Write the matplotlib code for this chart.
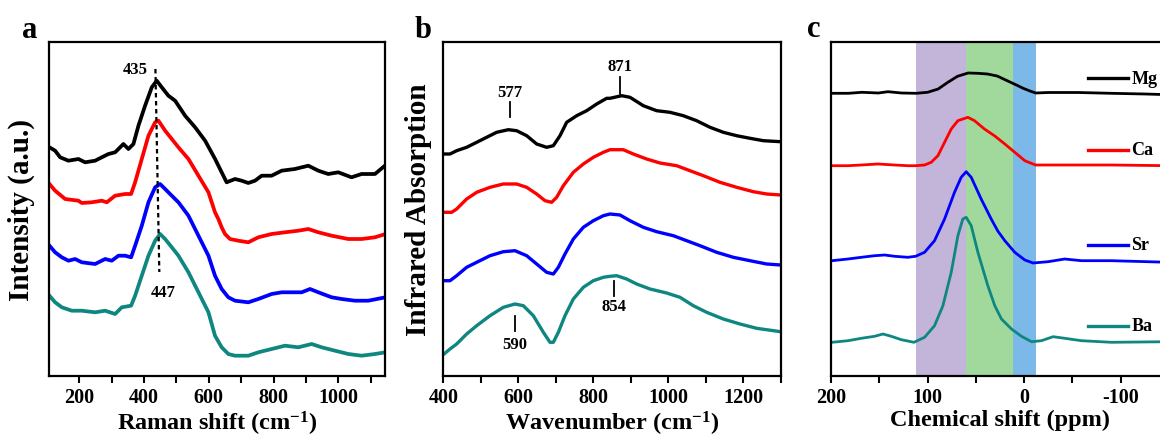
import matplotlib
matplotlib.use("Agg")
import matplotlib.pyplot as plt

plt.rcParams['font.family'] = ['Liberation Serif', 'DejaVu Serif']
plt.rcParams['font.weight'] = 'bold'
plt.rcParams['axes.unicode_minus'] = False
plt.rcParams['mathtext.fontset'] = 'custom'
plt.rcParams['mathtext.rm'] = 'Liberation Serif:bold'
plt.rcParams['mathtext.it'] = 'Liberation Serif:bold'
plt.rcParams['mathtext.bf'] = 'Liberation Serif:bold'

# ---------------- colours ----------------
colors = ['#000000', '#ff0000', '#0000ff', '#0e8780']
labels_c = ['Mg', 'Ca', 'Sr', 'Ba']

# ---------------- panel a : Raman ----------------
raman_black_x = [107.5, 125, 140.5, 166, 197, 217.7, 248.6, 269.2, 289.8, 310.4, 325.9, 336, 351.6, 367, 382.5, 403,
                 423.7, 439, 454.6, 475, 495.8, 526.7, 557.6, 588.5, 619.4, 634.6, 655, 681, 701.5, 722, 742.7, 763.3,
                 794, 825, 866, 907.5, 938.4, 969, 1000, 1041, 1072, 1113.5, 1144]
raman_black_y = [228.7, 225.3, 218.7, 215.3, 217, 213.7, 215.3, 218.7, 222, 223.7, 228.7, 232, 227, 232, 250.3, 270.3,
                 288.7, 295.3, 288.7, 280.3, 275.3, 260.3, 248.7, 235.3, 217, 207, 193.7, 197, 195.3, 193, 195.3, 200.3,
                 200.3, 205.3, 207, 210.3, 205.3, 202, 203.7, 198.7, 202, 202, 210.3]

raman_red_x = [107.5, 125, 156, 197, 207.4, 238.3, 269.2, 284.7, 310.4, 341.3, 359.8, 372.2, 392.8, 413.4, 434, 444.3,
               465, 485.5, 506, 537, 567.9, 598.8, 619.1, 629.4, 639.7, 650, 665.5, 691.2, 722, 753, 794, 835.4, 876.6,
               907.5, 938.4, 979.6, 1031, 1072, 1113.5, 1146]
raman_red_y = [192, 185.3, 177, 175.3, 173, 173.7, 175.3, 173.7, 180.3, 182, 182, 193.7, 217, 240.3, 253.7, 255.3,
               245.3, 237, 228.7, 217, 200.3, 183.7, 163.7, 157, 148.7, 142, 137, 135.3, 133.7, 138.7, 142, 143.7, 145.3,
               147, 143.7, 140.3, 137, 137, 138.7, 142]

raman_blue_x = [107.5, 125, 145.6, 166.2, 186.8, 207.4, 248.6, 279.5, 300.1, 320.7, 341.3, 359.8, 372.2, 392.8, 413.4,
                434, 449.4, 464.9, 485.5, 506.1, 537, 567.9, 598.8, 619.1, 639.7, 660.3, 680.9, 722.1, 753, 794.2, 825.1,
                866.3, 887, 912.7, 938.4, 979.6, 1010.5, 1051.7, 1092.9, 1146]
raman_blue_y = [130.3, 123.7, 118.7, 115.3, 117, 113.7, 112, 117, 115.3, 120.3, 120.3, 118.7, 130.3, 150.3, 173.7,
                188.7, 192, 187, 180.3, 173.7, 160.3, 140.3, 120.3, 100.3, 87, 78.7, 75.3, 73.7, 77, 82, 83.7,
                83.7, 83.7, 87, 83.7, 78.7, 77, 75.3, 75.3, 78.7]

raman_teal_x = [107.5, 125, 145.6, 176.5, 207.4, 248.6, 279.5, 310.4, 331, 359.8, 372.2, 392.8, 413.4, 434, 449.4,
                464.9, 485.5, 506.1, 537, 567.9, 598.8, 619.1, 639.7, 660.3, 680.9, 722.1, 753, 794.2, 835.4, 876.6,
                917.8, 948.7, 989.9, 1031.1, 1072.3, 1113.5, 1146]
raman_teal_y = [80.3, 73.7, 68.7, 65.3, 65.3, 63.7, 65.3, 62, 68.7, 70.3, 80.3, 100.3, 120.3, 135.3, 142,
                137, 128.7, 120.3, 103.7, 83.7, 63.7, 40.3, 28.7, 22, 20.3, 20.3, 23.7, 27, 30.3, 28.7,
                32, 28.7, 25.3, 22, 20.3, 22, 23.7]

raman_peaks = [435, 447]

# ---------------- panel b : IR ----------------
ir_black_x = [401.9, 417.9, 435.6, 462.3, 489, 515.6, 542.3, 573.4, 595.6, 622.3, 649, 675.6, 693.4, 711.2, 729, 755.7,
              782.3, 809, 835.7, 844.5, 875.6, 897.8, 933.4, 969, 1004.5, 1040, 1075.6, 1111.2, 1146.7, 1182.3, 1217.9,
              1253.4, 1299.6]
ir_black_y = [222, 222, 225.3, 228.7, 233.7, 238.7, 243.7, 246.3, 245.3, 240.3, 232, 228.7, 230.3, 240.3, 253.7, 260.3,
              265.3, 272, 277.7, 277.7, 280.3, 278.7, 270.3, 265.3, 263.7, 260.3, 255.3, 248.7, 243.7, 240.3, 237.7,
              235.3, 234.3]

ir_red_x = [401.9, 422.3, 435.6, 462.3, 489, 524.5, 560.1, 595.6, 622.3, 649, 671.2, 689, 702.3, 720.1, 746.8, 773.4,
            800.1, 826.8, 844.5, 880, 906.7, 942.3, 977.8, 1022.3, 1057.8, 1093.4, 1137.8, 1182.3, 1226.7, 1262.3,
            1299.6]
ir_red_y = [163.7, 163.7, 167, 177, 183.7, 188.7, 192, 192, 188.7, 182, 175.3, 173.7, 178.7, 190.3, 203.7, 212,
            218.7, 223.7, 226.3, 226.3, 222, 217, 213, 210.3, 205.3, 200.3, 193.7, 188.7, 184.3, 182,
            181]

ir_blue_x = [401.9, 417.9, 435.6, 462.3, 489, 524.5, 560.1, 591.2, 622.3, 649, 675.6, 693.4, 706.8, 724.5, 746.8,
             773.4, 800.1, 826.8, 844.5, 871.2, 897.8, 933.4, 969, 1013.4, 1049, 1084.5, 1129, 1173.4, 1217.8, 1262.3,
             1299.6]
ir_blue_y = [95.3, 95.3, 100.3, 108.7, 113.7, 120.3, 124.3, 125.3, 120.3, 112, 103.7, 102, 108.7, 122, 137,
             148.7, 155.3, 160.3, 162, 161, 155.3, 148.7, 144.3, 140.3, 135.3, 130.3, 123.7, 118.7, 115.3, 112,
             111]

ir_teal_x = [401.9, 417.9, 435.6, 462.3, 489, 524.5, 560.1, 591.2, 613.4, 640.1, 666.8, 684.5, 693.4, 706.8, 724.5,
             746.8, 773.4, 800.1, 826.8, 844.5, 862.3, 888.9, 915.6, 951.2, 995.6, 1031.2, 1066.7, 1102.3, 1146.7,
             1191.2, 1235.6, 1299.6]
ir_teal_y = [22, 27, 32, 42, 50.3, 60.3, 68.7, 72, 70.3, 60.3, 43.7, 33.7, 33.7, 43.7, 60.3,
             77, 88.7, 95.3, 98.7, 99.7, 100.3, 97, 92, 87, 83, 78.7, 70.3, 63.7, 57,
             52, 47.7, 44.3]

ir_marks = [577, 871, 590, 854]

# ---------------- panel c : NMR ----------------
nmr_black_x = [200, 182, 168, 151, 141, 127, 112, 100, 89, 79, 69, 58, 48, 38, 28, 18, 8, 1, -6, -12, -25, -56,
               -90, -125, -150]
nmr_black_y = [282.7, 282.7, 283.7, 283, 284.3, 283, 282.7, 283.7, 287, 293.7, 299.7, 303, 302.7, 302, 300, 295.5, 291,
               287.7, 285, 283, 283.5, 283.5, 282.7, 282, 281.3]

nmr_red_x = [199, 182.4, 168.6, 151.4, 134.1, 120.4, 112.4, 103.1, 96.2, 89.3, 82.4, 75.5, 68.6, 58.3, 51.4, 41.1,
             30.4, 20, 9.7, -0.7, -11.7, -31.7, -55.9, -90.3, -150]
nmr_red_y = [210.3, 210.3, 211, 212, 211, 210.3, 210.3, 211, 213.7, 220.3, 233.7, 247, 255.3, 258.7, 255.3, 247,
             240, 232, 223.7, 215.3, 211, 211, 211, 211, 210.3]

nmr_blue_x = [199, 182.4, 168.6, 154.8, 144.5, 134.1, 120.4, 112.4, 103.1, 92.8, 82.4, 72.1, 65.2, 60, 54.8, 44.5,
              34.1, 27.3, 20, 9.7, -0.7, -9.3, -24.8, -42, -59.3, -90.3, -150]
nmr_blue_y = [115.3, 117, 118.7, 120.3, 121, 119.7, 118.7, 119.7, 123.7, 135.3, 157, 183.7, 198.7, 204.3, 198.7, 177,
              157, 145, 135.3, 123.7, 116, 113, 114.3, 117, 115.3, 115.3, 113.7]

nmr_teal_x = [199, 182.4, 168.6, 154.8, 146.2, 137.6, 127.2, 114.1, 103.1, 92.8, 84.1, 75.5, 68.6, 63.5, 60, 54.8,
              47.9, 37.6, 30.4, 23.5, 13.1, 2.8, -7.6, -17.9, -30, -42.1, -59.3, -90.3, -150]
nmr_teal_y = [33.7, 35.3, 37.7, 39.7, 42, 39.7, 36.3, 33.7, 38.7, 50.3, 70.3, 103.7, 140.3, 157, 158.7, 150.3,
              123.7, 90.3, 70.3, 57, 47, 39.7, 34.3, 35.3, 39.3, 37.7, 35.3, 33.7, 34.3]

# shaded regions (ppm)
band_edges = [112, 60, 12, -12]
band_colors = ['#c3b4d9', '#a1d99d', '#7cb9e9']

# legend label heights (same units as curves)
legend_y = [298, 226.3, 131.3, 50.3]

# ---------------- figure ----------------
W, H = 1160, 439
fig = plt.figure(figsize=(W / 100, H / 100), dpi=100)

def px_axes(x0, x1, y0, y1):
    return fig.add_axes([x0 / W, 1 - y1 / H, (x1 - x0) / W, (y1 - y0) / H])

axa = px_axes(49.3, 385.5, 43, 377)
axb = px_axes(443.3, 780.8, 43, 377)
axc = px_axes(831, 1169, 43, 377)

lw_sp = 1.6
for ax in (axa, axb, axc):
    for s in ax.spines.values():
        s.set_linewidth(lw_sp)
    ax.set_ylim(0, 334)
    ax.set_yticks([])
    ax.tick_params(axis='x', which='major', direction='out', length=5, width=1.5, labelsize=14.5, pad=3)
    ax.tick_params(axis='x', which='minor', direction='out', length=5, width=1.5)

# panel a
ra = [(raman_black_x, raman_black_y), (raman_red_x, raman_red_y), (raman_blue_x, raman_blue_y), (raman_teal_x, raman_teal_y)]
for (x, y), c in zip(ra, colors):
    axa.plot(x, y, color=c, lw=2.7, solid_joinstyle='round')
axa.set_xlim(107, 1146)
axa.set_xticks([200, 400, 600, 800, 1000])
axa.set_xticks(range(300, 1200, 200), minor=True)
axa.plot(raman_peaks, [307, 104], color='black', ls=(0, (2, 1.6)), lw=1.6)
axa.text(raman_peaks[0] - 62, 307.5, str(raman_peaks[0]), fontsize=12, fontweight='bold', ha='center', va='center')
axa.text(raman_peaks[1] + 13, 84, str(raman_peaks[1]), fontsize=12, fontweight='bold', ha='center', va='center')
axa.set_xlabel('Raman shift (cm$^{-1}$)', fontsize=17.5, fontweight='bold', labelpad=1)
axa.set_ylabel('Intensity (a.u.)', fontsize=21, fontweight='bold')
axa.yaxis.set_label_coords(-0.042, 0.5)

# panel b
rb = [(ir_black_x, ir_black_y), (ir_red_x, ir_red_y), (ir_blue_x, ir_blue_y), (ir_teal_x, ir_teal_y)]
for (x, y), c in zip(rb, colors):
    axb.plot(x, y, color=c, lw=2.4, solid_joinstyle='round')
axb.set_xlim(400, 1300)
axb.set_xticks([400, 600, 800, 1000, 1200])
axb.set_xticks(range(500, 1301, 200), minor=True)
# marks: (line y0, line y1, text y)
mark_geom = [(258.7, 273.7, 284.3), (282, 298.7, 310.3), (45.3, 60.3, 32), (80.3, 95.3, 70.3)]
for xm, (y0, y1, yt) in zip(ir_marks, mark_geom):
    axb.plot([xm, xm], [y0, y1], color='black', lw=1.3)
    axb.text(xm, yt, str(xm), fontsize=12, fontweight='bold', ha='center', va='center')
axb.set_xlabel('Wavenumber (cm$^{-1}$)', fontsize=17.5, fontweight='bold', labelpad=1)
axb.set_ylabel('Infrared Absorption', fontsize=21, fontweight='bold')
axb.yaxis.set_label_coords(-0.033, 0.5)

# panel c
for (a, b), bc in zip(zip(band_edges[:-1], band_edges[1:]), band_colors):
    axc.axvspan(b, a, color=bc, lw=0, zorder=0)
rc = [(nmr_black_x, nmr_black_y), (nmr_red_x, nmr_red_y), (nmr_blue_x, nmr_blue_y), (nmr_teal_x, nmr_teal_y)]
for (x, y), c in zip(rc, colors):
    axc.plot(x, y, color=c, lw=2.0, solid_joinstyle='round')
for lab, ly, c in zip(labels_c, legend_y, colors):
    axc.plot([-66, -108], [ly, ly], color=c, lw=2.4)
    axc.text(-111, ly, lab, fontsize=13, fontweight='bold', ha='left', va='center', clip_on=False)
axc.set_xlim(200, -150)
axc.set_xticks([200, 100, 0, -100])
axc.set_xticks([150, 50, -50, -150], minor=True)
axc.set_xlabel('Chemical shift (ppm)', fontsize=17.5, fontweight='bold', labelpad=1)

# panel letters
fig.text(22 / W, 1 - 38 / H, 'a', fontsize=22, fontweight='bold', va='baseline')
fig.text(415 / W, 1 - 38 / H, 'b', fontsize=22, fontweight='bold', va='baseline')
fig.text(807 / W, 1 - 37 / H, 'c', fontsize=22, fontweight='bold', va='baseline')

fig.savefig('out.png', dpi=100)
